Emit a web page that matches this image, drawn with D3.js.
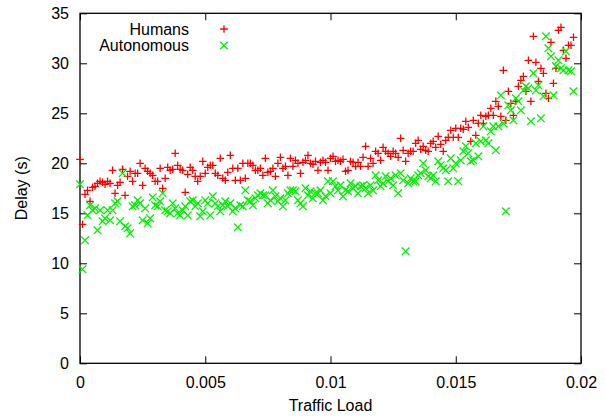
<!DOCTYPE html>
<html>
<head>
<meta charset="utf-8">
<script src="https://cdn.jsdelivr.net/npm/d3@7"></script>
<style>
  html, body { margin: 0; padding: 0; background: #fff; }
  svg { display: block; font-family: "Liberation Sans", Arial, sans-serif; }
</style>
</head>
<body>
<div id="chart"></div>
<script>
// traffic load of each simulation run
const loads = [
  0, 0.0001, 0.0002, 0.0003, 0.0004, 0.0005, 0.0006, 0.0007, 0.0008, 0.0009,
  0.001, 0.0011, 0.0012, 0.0013, 0.0014, 0.0015, 0.0016, 0.0017, 0.0018, 0.0019,
  0.002, 0.0021, 0.0022, 0.0023, 0.0024, 0.0025, 0.0026, 0.0027, 0.0028, 0.0029,
  0.003, 0.0031, 0.0032, 0.0033, 0.0034, 0.0035, 0.0036, 0.0037, 0.0038, 0.0039,
  0.004, 0.0041, 0.0042, 0.0043, 0.0044, 0.0045, 0.0046, 0.0047, 0.0048, 0.0049,
  0.005, 0.0051, 0.0052, 0.0053, 0.0054, 0.0055, 0.0056, 0.0057, 0.0058, 0.0059,
  0.006, 0.0061, 0.0062, 0.0063, 0.0064, 0.0065, 0.0066, 0.0067, 0.0068, 0.0069,
  0.007, 0.0071, 0.0072, 0.0073, 0.0074, 0.0075, 0.0076, 0.0077, 0.0078, 0.0079,
  0.008, 0.0081, 0.0082, 0.0083, 0.0084, 0.0085, 0.0086, 0.0087, 0.0088, 0.0089,
  0.009, 0.0091, 0.0092, 0.0093, 0.0094, 0.0095, 0.0096, 0.0097, 0.0098, 0.0099,
  0.01, 0.0101, 0.0102, 0.0103, 0.0104, 0.0105, 0.0106, 0.0107, 0.0108, 0.0109,
  0.011, 0.0111, 0.0112, 0.0113, 0.0114, 0.0115, 0.0116, 0.0117, 0.0118, 0.0119,
  0.012, 0.0121, 0.0122, 0.0123, 0.0124, 0.0125, 0.0126, 0.0127, 0.0128, 0.0129,
  0.013, 0.0131, 0.0132, 0.0133, 0.0134, 0.0135, 0.0136, 0.0137, 0.0138, 0.0139,
  0.014, 0.0141, 0.0142, 0.0143, 0.0144, 0.0145, 0.0146, 0.0147, 0.0148, 0.0149,
  0.015, 0.0151, 0.0152, 0.0153, 0.0154, 0.0155, 0.0156, 0.0157, 0.0158, 0.0159,
  0.016, 0.0161, 0.0162, 0.0163, 0.0164, 0.0165, 0.0166, 0.0167, 0.0168, 0.0169,
  0.017, 0.0171, 0.0172, 0.0173, 0.0174, 0.0175, 0.0176, 0.0177, 0.0178, 0.0179,
  0.018, 0.0181, 0.0182, 0.0183, 0.0184, 0.0185, 0.0186, 0.0187, 0.0188, 0.0189,
  0.019, 0.0191, 0.0192, 0.0193, 0.0194, 0.0195, 0.0196, 0.0197
];

// delay (s) measured for human drivers
const humans = [
  20.4, 13.9, 16.9, 17.3, 16.2, 17.6, 17.7, 18.0, 18.2, 18.1,
  17.9, 18.2, 18.0, 19.3, 17.0, 17.8, 18.1, 19.4, 16.8, 18.7,
  19.2, 18.2, 19.0, 19.0, 20.0, 17.8, 19.5, 19.2, 19.0, 18.8,
  18.2, 18.2, 19.5, 17.5, 18.5, 19.6, 19.3, 19.4, 21.0, 19.8,
  19.4, 19.3, 17.1, 18.9, 19.6, 19.3, 18.7, 18.2, 18.7, 20.2,
  19.0, 19.6, 19.8, 19.8, 19.0, 18.8, 20.5, 18.5, 18.3, 19.1,
  20.8, 19.5, 18.3, 19.5, 18.3, 20.0, 18.5, 20.0, 20.0, 19.8,
  19.3, 19.3, 19.5, 18.8, 20.5, 19.1, 19.2, 19.5, 18.7, 20.0,
  20.6, 19.5, 19.7, 18.8, 20.5, 19.7, 20.3, 20.0, 19.0, 20.1,
  20.3, 20.8, 20.0, 19.9, 20.2, 19.3, 20.1, 20.3, 20.1, 19.3,
  20.5, 20.7, 20.2, 20.3, 20.2, 20.4, 19.2, 19.3, 20.2, 20.1,
  19.7, 20.1, 19.7, 20.6, 21.7, 19.7, 20.5, 20.0, 21.2, 21.0,
  20.3, 21.6, 21.2, 21.0, 20.7, 21.2, 21.0, 20.6, 22.5, 21.3,
  20.2, 21.0, 21.2, 21.2, 22.0, 22.3, 21.4, 21.7, 21.3, 21.2,
  22.0, 22.2, 21.6, 22.7, 21.9, 21.2, 22.3, 22.6, 23.3, 22.6,
  23.5, 22.6, 23.5, 23.4, 24.2, 23.6, 22.2, 24.3, 22.8, 24.0,
  24.8, 24.0, 24.7, 24.8, 25.5, 24.8, 26.2, 25.7, 24.7, 29.3,
  24.3, 27.2, 26.0, 24.8, 26.2, 27.7, 28.3, 28.7, 27.2, 30.3,
  26.2, 32.7, 30.1, 28.2, 29.5, 29.0, 27.0, 26.5, 32.1, 28.0,
  29.5, 33.3, 33.6, 31.3, 30.5, 31.8, 31.8, 32.6
];

// delay (s) measured for autonomous vehicles
const autonomous = [
  17.9, 9.4, 12.3, 14.8, 15.8, 15.3, 15.5, 13.3, 15.3, 14.2,
  14.5, 15.3, 14.3, 15.3, 16.0, 16.2, 14.2, 19.0, 13.7, 13.5,
  13.0, 15.7, 15.8, 16.3, 16.0, 14.3, 15.5, 14.0, 14.5, 16.6,
  15.8, 15.7, 16.2, 17.0, 15.3, 15.2, 15.0, 16.0, 15.5, 15.0,
  14.8, 15.3, 15.7, 14.8, 16.2, 16.3, 15.7, 16.0, 14.7, 15.2,
  16.3, 16.0, 14.8, 16.7, 16.0, 15.7, 15.2, 15.8, 16.2, 15.7,
  16.0, 15.2, 15.5, 13.6, 15.8, 15.7, 17.3, 16.3, 16.2, 15.8,
  16.5, 16.8, 17.0, 16.8, 16.8, 16.0, 16.3, 17.3, 16.7, 16.2,
  16.5, 15.7, 16.3, 17.0, 17.3, 17.3, 17.2, 16.3, 16.0, 15.7,
  17.5, 16.8, 17.2, 16.5, 17.0, 17.0, 17.3, 16.3, 16.7, 18.2,
  17.0, 18.2, 17.7, 17.3, 17.8, 16.7, 17.3, 17.2, 18.0, 17.5,
  17.7, 17.0, 17.7, 17.8, 17.5, 17.0, 17.8, 17.3, 18.8, 18.3,
  17.7, 18.0, 18.7, 18.2, 18.5, 17.8, 18.8, 17.0, 19.0, 18.3,
  11.2, 18.0, 18.5, 18.2, 18.2, 18.8, 19.0, 20.0, 19.3, 18.7,
  18.5, 18.8, 18.2, 20.2, 19.8, 19.5, 19.3, 18.2, 20.5, 19.5,
  20.0, 18.2, 20.3, 21.2, 21.7, 21.0, 20.2, 20.3, 22.0, 20.7,
  22.2, 23.7, 22.3, 22.0, 23.2, 23.7, 21.3, 23.7, 26.8, 24.0,
  15.2, 25.8, 25.3, 24.3, 26.5, 26.2, 25.3, 27.3, 27.7, 27.5,
  24.2, 29.0, 27.3, 27.8, 24.5, 26.7, 32.7, 31.5, 30.7, 26.8,
  29.7, 30.3, 29.5, 29.3, 31.2, 29.3, 29.2, 27.2
];

const xTicks = [0, 0.005, 0.01, 0.015, 0.02];
const xTickLabels = ['0', '0.005', '0.01', '0.015', '0.02'];
const yTicks = [0, 5, 10, 15, 20, 25, 30, 35];
const seriesNames = ['Humans', 'Autonomous'];

const width = 605, height = 416;
const margin = { top: 13.3, right: 24, bottom: 52.7, left: 80 };
const tickLen = 7;
const markR = 3.8;
const fontSize = 16;

const svg = d3.select('#chart').append('svg')
  .attr('width', width)
  .attr('height', height);

const x = d3.scaleLinear().domain([0, 0.02]).range([margin.left, width - margin.right]);
const y = d3.scaleLinear().domain([0, 35]).range([height - margin.bottom, margin.top]);

// gnuplot-like point shapes
const plusPath = (cx, cy) => `M${cx - markR},${cy}H${cx + markR}M${cx},${cy - markR}V${cy + markR}`;
const crossPath = (cx, cy) => `M${cx - markR},${cy - markR}L${cx + markR},${cy + markR}M${cx - markR},${cy + markR}L${cx + markR},${cy - markR}`;

// Axes: ticks point inward and are mirrored on all four sides
const styleAxis = g => {
  g.select('.domain').remove();
  g.selectAll('line').attr('stroke', '#000').attr('stroke-width', 1);
  g.selectAll('text').attr('fill', '#000').attr('font-size', fontSize).attr('font-family', null);
};

svg.append('g')
  .attr('transform', `translate(0,${y(0)})`)
  .call(d3.axisBottom(x).tickValues(xTicks)
    .tickFormat((d, i) => xTickLabels[i])
    .tickSizeInner(-tickLen).tickSizeOuter(0).tickPadding(13))
  .call(styleAxis);

svg.append('g')
  .attr('transform', `translate(0,${y(35)})`)
  .call(d3.axisTop(x).tickValues(xTicks).tickFormat('')
    .tickSizeInner(-tickLen).tickSizeOuter(0))
  .call(styleAxis);

svg.append('g')
  .attr('transform', `translate(${x(0)},0)`)
  .call(d3.axisLeft(y).tickValues(yTicks)
    .tickSizeInner(-tickLen).tickSizeOuter(0).tickPadding(11))
  .call(styleAxis);

svg.append('g')
  .attr('transform', `translate(${x(0.02)},0)`)
  .call(d3.axisRight(y).tickValues(yTicks).tickFormat('')
    .tickSizeInner(-tickLen).tickSizeOuter(0))
  .call(styleAxis);

// plot frame
svg.append('rect')
  .attr('x', x(0))
  .attr('y', y(35))
  .attr('width', x(0.02) - x(0))
  .attr('height', y(0) - y(35))
  .attr('fill', 'none')
  .attr('stroke', '#000')
  .attr('stroke-width', 1.3);

// axis titles
svg.append('text')
  .attr('x', (x(0) + x(0.02)) / 2)
  .attr('y', 411)
  .attr('text-anchor', 'middle')
  .attr('font-size', fontSize)
  .text('Traffic Load');

svg.append('text')
  .attr('transform', `translate(27,${(y(0) + y(35)) / 2}) rotate(-90)`)
  .attr('text-anchor', 'middle')
  .attr('font-size', fontSize)
  .text('Delay (s)');

// data points
const humanPts = loads.map((l, i) => [l, humans[i]]);
const autoPts = loads.map((l, i) => [l, autonomous[i]]);

svg.append('g')
  .selectAll('path')
  .data(humanPts)
  .enter()
  .append('path')
  .attr('d', d => plusPath(x(d[0]), y(d[1])))
  .attr('stroke', '#ff0000')
  .attr('stroke-width', 1.3)
  .attr('fill', 'none');

svg.append('g')
  .selectAll('path')
  .data(autoPts)
  .enter()
  .append('path')
  .attr('d', d => crossPath(x(d[0]), y(d[1])))
  .attr('stroke', '#00ee00')
  .attr('stroke-width', 1.3)
  .attr('fill', 'none');

// legend (top left, gnuplot style: text right aligned, sample on the right)
const legend = svg.append('g');
const legendRows = [
  { name: seriesNames[0], color: '#ff0000', shape: plusPath, cy: 29 },
  { name: seriesNames[1], color: '#00ee00', shape: crossPath, cy: 45.5 }
];
legendRows.forEach(r => {
  legend.append('text')
    .attr('x', 189)
    .attr('y', r.cy)
    .attr('dy', '0.35em')
    .attr('text-anchor', 'end')
    .attr('font-size', fontSize)
    .text(r.name);
  legend.append('path')
    .attr('d', r.shape(224, r.cy))
    .attr('stroke', r.color)
    .attr('stroke-width', 1.3)
    .attr('fill', 'none');
});
</script>
</body>
</html>
